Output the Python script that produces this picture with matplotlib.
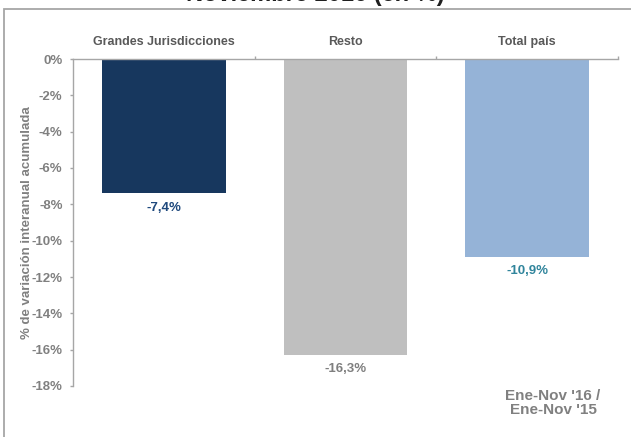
import matplotlib
matplotlib.use("Agg")
import matplotlib.pyplot as plt
from matplotlib.patches import Rectangle
from matplotlib.ticker import FixedLocator

plt.rcParams['font.family'] = ['Liberation Sans', 'DejaVu Sans']

categories = ["Grandes Jurisdicciones", "Resto", "Total país"]
values = [-7.4, -16.3, -10.9]
value_labels = ["-7,4%", "-16,3%", "-10,9%"]
bar_colors = ["#17375E", "#BFBFBF", "#95B3D7"]
label_colors = ["#1F497D", "#7F7F7F", "#31859C"]
yticks = [0, -2, -4, -6, -8, -10, -12, -14, -16, -18]
ytick_labels = ["0%", "-2%", "-4%", "-6%", "-8%", "-10%", "-12%", "-14%", "-16%", "-18%"]

W, H = 631, 437
fig = plt.figure(figsize=(W / 100, H / 100), dpi=100)
fig.patch.set_facecolor("white")

# outer frame
fig.patches.append(Rectangle((4 / W, -0.05), 1.0, 1 - 9 / H + 0.05,
                             transform=fig.transFigure, fill=False,
                             edgecolor="#A6A6A6", linewidth=1.3))

# title (partially outside the canvas)
fig.text(0.5, 1 + 5 / H, "Noviembre 2016 (en %)", ha="center", va="center",
         fontsize=17, fontweight="bold", color="#1F1F1F")

ax = fig.add_axes([73 / W, 1 - 386 / H, (618 - 73) / W, (386 - 59) / H])
x = list(range(len(categories)))
ax.bar(x, values, width=0.68, color=bar_colors)

ax.set_xlim(-0.5, len(categories) - 0.5)
ax.set_ylim(-18, 0)

ax.set_yticks(yticks)
ax.set_yticklabels(ytick_labels)
ax.tick_params(axis="y", direction="out", length=2.5, width=1, color="#A6A6A6",
               labelsize=9.5, labelcolor="#808080", pad=5)
for t in ax.get_yticklabels():
    t.set_fontweight("bold")

ax.xaxis.set_ticks_position("top")
ax.set_xticks(x)
ax.set_xticklabels(categories)
ax.xaxis.set_minor_locator(FixedLocator([0.5, 1.5, 2.5]))
ax.tick_params(axis="x", which="major", length=0, pad=8, labelsize=9,
               labelcolor="#595959")
ax.tick_params(axis="x", which="minor", direction="out", length=2.5, width=1,
               color="#A6A6A6")
for t in ax.get_xticklabels():
    t.set_fontweight("bold")

for side in ("right", "bottom"):
    ax.spines[side].set_visible(False)
for side in ("left", "top"):
    ax.spines[side].set_color("#A6A6A6")
    ax.spines[side].set_linewidth(1)

for xi, v, lab, c in zip(x, values, value_labels, label_colors):
    ax.annotate(lab, (xi, v), xytext=(0, -6), textcoords="offset points",
                ha="center", va="top", fontsize=9.5, fontweight="bold", color=c)

ax.set_ylabel("% de variación interanual acumulada", fontsize=9.5,
              fontweight="bold", color="#808080")
ax.yaxis.set_label_coords(-0.074, 0.5)

fig.text(553 / W, 1 - 403 / H, "Ene-Nov '16 /\nEne-Nov '15", ha="center",
         va="center", fontsize=11, fontweight="bold", color="#808080",
         linespacing=1.0)

fig.savefig("out.png", dpi=100)
